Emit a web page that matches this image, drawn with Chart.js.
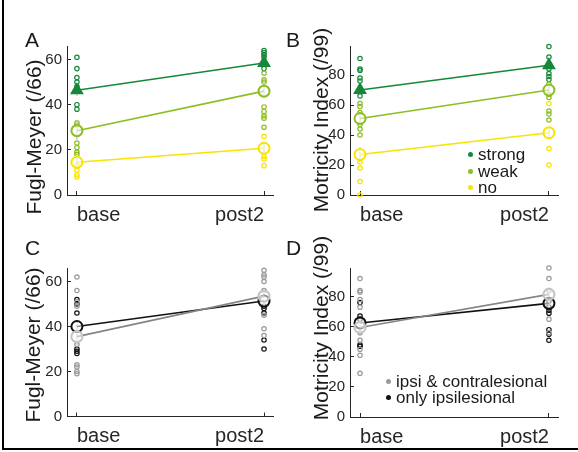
<!DOCTYPE html>
<html>
<head>
<meta charset="utf-8">
<script src="https://cdn.jsdelivr.net/npm/chart.js@4.4.1/dist/chart.umd.min.js"></script>
<style>
  body { margin: 0; background: #fff; font-family: "Liberation Sans", Arial, sans-serif; }
  #fig { position: relative; width: 578px; height: 452px; overflow: hidden; }
  canvas { position: absolute; }
  .txt { position: absolute; white-space: nowrap; line-height: 1; color: #1a1a1a; }
  .ylab { position: absolute; white-space: nowrap; line-height: 1; font-size: 21px; color: #1a1a1a;
          transform: translate(-50%, -50%) rotate(-90deg); }
  .leg { position: absolute; white-space: nowrap; font-size: 17px; line-height: 17px; color: #1a1a1a; }
  .dot { display: inline-block; width: 5px; height: 5px; border-radius: 50%; margin-right: 5px; vertical-align: 3px; }
  #frameL { position: absolute; left: 2px; top: 0; width: 2px; height: 450px; background: #000; }
  #frameB { position: absolute; left: 2px; top: 448px; width: 576px; height: 2px; background: #000; }
</style>
</head>
<body>
<div id="fig">
  <div id="frameL"></div><div id="frameB"></div>
  <canvas id="cA" width="289" height="240" style="left:0;top:0;width:289px;height:240px"></canvas>
  <canvas id="cB" width="289" height="240" style="left:289px;top:0;width:289px;height:240px"></canvas>
  <canvas id="cC" width="289" height="227" style="left:0;top:225px;width:289px;height:227px"></canvas>
  <canvas id="cD" width="289" height="227" style="left:289px;top:225px;width:289px;height:227px"></canvas>

  <div class="txt" style="left:25px;top:29px;font-size:21px">A</div>
  <div class="txt" style="left:286px;top:29px;font-size:21px">B</div>
  <div class="txt" style="left:25px;top:237px;font-size:21px">C</div>
  <div class="txt" style="left:286px;top:237px;font-size:21px">D</div>

  <div class="ylab" style="left:33px;top:137px">Fugl-Meyer (/66)</div>
  <div class="ylab" style="left:319.5px;top:120px">Motricity Index (/99)</div>
  <div class="ylab" style="left:32px;top:345px">Fugl-Meyer (/66)</div>
  <div class="ylab" style="left:319.5px;top:328px">Motricity Index (/99)</div>

  <div class="leg" style="left:468px;top:146px"><span class="dot" style="background:#17883a"></span>strong</div>
  <div class="leg" style="left:468px;top:163px"><span class="dot" style="background:#8cbe22"></span>weak</div>
  <div class="leg" style="left:468px;top:179px"><span class="dot" style="background:#f7e400"></span>no</div>
  <div class="leg" style="left:386px;top:373px"><span class="dot" style="background:#9a9a9a"></span>ipsi &amp; contralesional</div>
  <div class="leg" style="left:386px;top:389px"><span class="dot" style="background:#111"></span>only ipsilesional</div>
</div>

<script>
// x positions: 0 = base, 1 = post2
const xLabels = ['base', 'post2'];
const fmTicks = [0, 20, 40, 60];
const miTicks = [0, 20, 40, 60, 80];

// A - Fugl-Meyer per MEP group
const fmStrongBase = [61, 56, 52, 50, 48, 40, 38];
const fmStrongPost = [64, 63, 62, 61, 56];
const fmStrongMean = [46.4, 58.5];
const fmStrongErr = [2.5, 2];
const fmWeakBase = [32, 31, 23, 21, 19, 18];
const fmWeakPost = [54, 51, 50, 39, 37, 35, 34, 30];
const fmWeakMean = [28.5, 46];
const fmWeakErr = [4.5, 3];
const fmNoBase = [13, 11, 9, 8];
const fmNoPost = [26, 17, 16, 13];
const fmNoMean = [14.5, 20.7];
const fmNoErr = [2, 2.5];

// B - Motricity Index per MEP group
const miStrongBase = [91, 84, 83, 78, 76, 66];
const miStrongPost = [99, 92, 84, 81, 79, 77];
const miStrongMean = [70, 86.5];
const miStrongErr = [3, 3];
const miWeakBase = [61, 59, 55, 47, 44, 40];
const miWeakPost = [74, 67, 65, 56, 54, 50];
const miWeakMean = [51, 70];
const miWeakErr = [4, 4];
const miNoBase = [22, 18, 9, 0];
const miNoPost = [61, 31, 20];
const miNoMean = [27, 41.5];
const miNoErr = [5, 4];

// C - Fugl-Meyer per activation group
const fmBothBase = [62, 56, 51, 49, 32, 23, 22, 20, 19];
const fmBothPost = [65, 63, 62, 60, 56, 45, 39, 36];
const fmBothMean = [35.5, 53.5];
const fmBothErr = [4, 2];
const fmIpsiBase = [52, 50, 46, 30, 29, 28];
const fmIpsiPost = [49, 48, 46, 34, 30];
const fmIpsiMean = [40, 51.3];
const fmIpsiErr = [2, 2];

// D - Motricity Index per activation group
const miBothBase = [92, 84, 83, 78, 73, 56, 51, 45, 41, 29];
const miBothPost = [99, 92, 84, 65, 56];
const miBothMean = [59.5, 81.5];
const miBothErr = [4, 4];
const miIpsiBase = [76, 67, 65, 48, 47];
const miIpsiPost = [77, 73, 71, 69, 58, 55, 51];
const miIpsiMean = [62.5, 75.5];
const miIpsiErr = [3, 3];

const STRONG = '#17883a', WEAK = '#8cbe22', NO = '#f7e400';
const GREY = '#9a9a9a', GREYLINE = '#858585', GREYMEAN = '#c4c4c4', BLACK = '#111111';
const ERRCOL = '#cfcfcf';
const AXIS = '#262626';
const TICK = -4; // inward tick marks

function groupSets(g) {
  const pts = g.base.map(v => ({ x: 0, y: v })).concat(g.post.map(v => ({ x: 1, y: v })));
  const sets = [];
  // mean line + markers (on top)
  sets.push({
    data: g.mean.map((m, i) => ({ x: i, y: m })),
    showLine: true, borderColor: g.line || g.color, borderWidth: 1.6,
    pointStyle: g.marker, pointRadius: g.marker === 'triangle' ? 6 : 5.5,
    pointBackgroundColor: g.marker === 'triangle' ? g.color : 'rgba(255,255,255,0.55)',
    pointBorderColor: g.meanColor || g.color, pointBorderWidth: 2, order: 0, clip: false
  });
  // error bars
  g.mean.forEach((m, i) => {
    sets.push({
      data: [{ x: i, y: m - g.err[i] }, { x: i, y: m + g.err[i] }],
      showLine: true, borderColor: ERRCOL, borderWidth: 1.5, pointRadius: 0, order: 1, clip: false
    });
  });
  // individual subjects
  sets.push({
    data: pts, pointStyle: 'circle', pointRadius: 2.2, pointBorderWidth: 1.2,
    pointBorderColor: g.color, pointBackgroundColor: 'rgba(0,0,0,0)', order: 2, clip: false
  });
  return sets;
}

function panel(id, yMax, yTicks, groups, yW, xH, pad) {
  const datasets = [];
  groups.forEach(g => datasets.push(...groupSets(g)));
  const grid = { display: true, drawOnChartArea: false, drawTicks: true, tickLength: TICK, color: AXIS, lineWidth: 1 };
  return new Chart(document.getElementById(id), {
    type: 'scatter',
    data: { datasets },
    options: {
      responsive: false, animation: false, events: [],
      layout: { padding: pad },
      plugins: { legend: { display: false }, tooltip: { enabled: false } },
      scales: {
        x: {
          type: 'linear', min: -0.053, max: 1.048,
          afterBuildTicks: s => { s.ticks = [{ value: 0 }, { value: 1 }]; },
          afterFit: s => { s.height = xH; },
          grid, border: { color: AXIS, width: 1 },
          ticks: {
            callback: v => xLabels[v], align: 'inner', padding: 8 - TICK, color: AXIS,
            maxRotation: 0, autoSkip: false, font: { size: 20, family: 'Liberation Sans' }
          }
        },
        y: {
          min: 0, max: yMax,
          afterBuildTicks: s => { s.ticks = yTicks.map(v => ({ value: v })); },
          afterFit: s => { s.width = yW; },
          grid, border: { color: AXIS, width: 1 },
          ticks: { padding: 5 - TICK, color: AXIS, font: { size: 15, family: 'Liberation Sans' } }
        }
      }
    }
  });
}

panel('cA', 66, fmTicks, [
  { color: NO, base: fmNoBase, post: fmNoPost, mean: fmNoMean, err: fmNoErr, marker: 'circle' },
  { color: WEAK, base: fmWeakBase, post: fmWeakPost, mean: fmWeakMean, err: fmWeakErr, marker: 'circle' },
  { color: STRONG, base: fmStrongBase, post: fmStrongPost, mean: fmStrongMean, err: fmStrongErr, marker: 'triangle' }
], 67, 45, { left: 0, top: 46, right: 16, bottom: 0 });

panel('cB', 99, miTicks, [
  { color: NO, base: miNoBase, post: miNoPost, mean: miNoMean, err: miNoErr, marker: 'circle' },
  { color: WEAK, base: miWeakBase, post: miWeakPost, mean: miWeakMean, err: miWeakErr, marker: 'circle' },
  { color: STRONG, base: miStrongBase, post: miStrongPost, mean: miStrongMean, err: miStrongErr, marker: 'triangle' }
], 61, 45, { left: 0, top: 46.5, right: 20, bottom: 0 });

panel('cC', 66, fmTicks, [
  { color: GREY, line: GREYLINE, meanColor: GREYMEAN, base: fmBothBase, post: fmBothPost, mean: fmBothMean, err: fmBothErr, marker: 'circle' },
  { color: BLACK, base: fmIpsiBase, post: fmIpsiPost, mean: fmIpsiMean, err: fmIpsiErr, marker: 'circle' }
], 67, 35.5, { left: 0, top: 43, right: 16, bottom: 0 });

panel('cD', 99, miTicks, [
  { color: GREY, line: GREYLINE, meanColor: GREYMEAN, base: miBothBase, post: miBothPost, mean: miBothMean, err: miBothErr, marker: 'circle' },
  { color: BLACK, base: miIpsiBase, post: miIpsiPost, mean: miIpsiMean, err: miIpsiErr, marker: 'circle' }
], 61, 35, { left: 0, top: 43, right: 20, bottom: 0 });
</script>
</body>
</html>
